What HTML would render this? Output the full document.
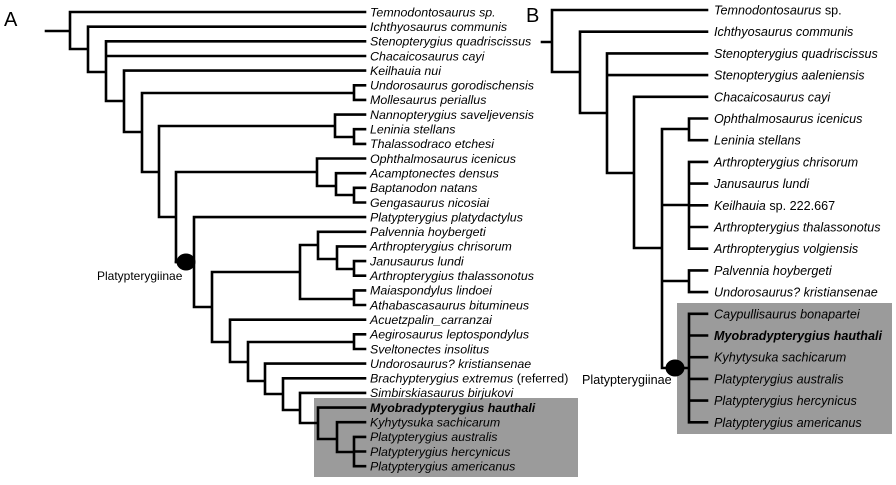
<!DOCTYPE html>
<html><head><meta charset="utf-8"><style>
html,body{margin:0;padding:0;background:#fff;}
svg{display:block;}
text{font-family:"Liberation Sans",Arial,sans-serif;fill:#000;}
.a{font-size:12.4px;font-style:italic;}
.b{font-size:12.6px;font-style:italic;}
</style></head><body>
<svg width="896" height="485" viewBox="0 0 896 485" xmlns="http://www.w3.org/2000/svg">
<rect x="314" y="398" width="264" height="79" fill="#9b9b9b"/>
<rect x="677" y="303" width="215" height="131" fill="#9b9b9b"/>
<g fill="none" stroke="#000" stroke-width="2.6" stroke-linecap="square">
<path d="M46 31H70M70 12V49M70 12H365M70 49H88M88 26.7V72M88 26.7H365M88 72H106M106 41.3V101M106 41.3H365M106 56H365M106 101H124M124 70.6V132M124 70.6H365M124 132H142M142 93V172M142 93H354M354 85.3V99.9M354 85.3H365M354 99.9H365M142 172H159M159 126V217M159 126H335M335 114.6V137M335 114.6H365M335 137H354M354 129.2V143.9M354 129.2H365M354 143.9H365M159 217H176M176 172V262M176 172H317M317 158.5V186M317 158.5H365M317 186H336M336 173.2V195M336 173.2H365M336 195H354M354 187.8V202.5M354 187.8H365M354 202.5H365"/>
<path d="M176 262H194M194 217.1V307M194 217.1H365M194 307H212M212 272V342M212 272H300M300 245V299M300 245H318M318 231.8V259M318 231.8H365M318 259H337M337 246.4V269M337 246.4H365M337 269H354M354 261.1V275.7M354 261.1H365M354 275.7H365M300 299H354M354 290.4V305M354 290.4H365M354 305H365M212 342H230M230 319.7V362M230 319.7H365M230 362H248M248 342V381M248 342H354M354 334.3V349M354 334.3H365M354 349H365M248 381H265M265 363.6V394M265 363.6H365M265 394H283M283 378.3V410M283 378.3H365M283 410H300M300 392.9V423M300 392.9H365M300 423H318M318 407.6V439M318 407.6H365M318 439H337M337 422.2V452M337 422.2H365M337 452H354M354 436.9V466.2M354 436.9H365M354 451.5H365M354 466.2H365"/>
<path d="M542 42H552M552 10V72M552 10H707M552 72H580M580 31.7V113M580 31.7H707M580 113H607M607 53.4V173M607 53.4H707M607 75.1H707M607 173H634M634 96.8V248M634 96.8H707M634 248H662M662 129V368M662 129H689M689 118.5V140.2M689 118.5H707M689 140.2H707M662 205H689M689 161.9V248.7M689 161.9H707M689 183.6H707M689 205.3H707M689 227H707M689 248.7H707M662 281H689M689 270.4V292.1M689 270.4H707M689 292.1H707M662 368H689M689 313.8V422.3M689 313.8H707M689 335.5H707M689 357.2H707M689 378.9H707M689 400.6H707M689 422.3H707"/>
</g>
<ellipse cx="186" cy="262" rx="9.5" ry="8.5" fill="#000"/>
<ellipse cx="675" cy="368" rx="9.5" ry="8.5" fill="#000"/>
<text x="4" y="26" style="font-size:20px">A</text>
<text x="526" y="22" style="font-size:20px">B</text>
<text x="97" y="280" style="font-size:12px">Platypterygiinae</text>
<text x="582" y="384" style="font-size:12.6px">Platypterygiinae</text>
<g class="a">
<text x="370" y="16.3">Temnodontosaurus sp.</text>
<text x="370" y="31">Ichthyosaurus communis</text>
<text x="370" y="45.6">Stenopterygius quadriscissus</text>
<text x="370" y="60.3">Chacaicosaurus cayi</text>
<text x="370" y="74.9">Keilhauia nui</text>
<text x="370" y="89.6">Undorosaurus gorodischensis</text>
<text x="370" y="104.2">Mollesaurus periallus</text>
<text x="370" y="118.9">Nannopterygius saveljevensis</text>
<text x="370" y="133.5">Leninia stellans</text>
<text x="370" y="148.2">Thalassodraco etchesi</text>
<text x="370" y="162.8">Ophthalmosaurus icenicus</text>
<text x="370" y="177.5">Acamptonectes densus</text>
<text x="370" y="192.1">Baptanodon natans</text>
<text x="370" y="206.8">Gengasaurus nicosiai</text>
<text x="370" y="221.4">Platypterygius platydactylus</text>
<text x="370" y="236.1">Palvennia hoybergeti</text>
<text x="370" y="250.7">Arthropterygius chrisorum</text>
<text x="370" y="265.4">Janusaurus lundi</text>
<text x="370" y="280">Arthropterygius thalassonotus</text>
<text x="370" y="294.7">Maiaspondylus lindoei</text>
<text x="370" y="309.3">Athabascasaurus bitumineus</text>
<text x="370" y="324">Acuetzpalin_carranzai</text>
<text x="370" y="338.6">Aegirosaurus leptospondylus</text>
<text x="370" y="353.3">Sveltonectes insolitus</text>
<text x="370" y="367.9">Undorosaurus? kristiansenae</text>
<text x="370" y="382.6">Brachypterygius extremus <tspan style="font-style:normal">(referred)</tspan></text>
<text x="370" y="397.2">Simbirskiasaurus birjukovi</text>
<text x="370" y="411.9" style="font-weight:bold">Myobradypterygius hauthali</text>
<text x="370" y="426.5">Kyhytysuka sachicarum</text>
<text x="370" y="441.2">Platypterygius australis</text>
<text x="370" y="455.8">Platypterygius hercynicus</text>
<text x="370" y="470.5">Platypterygius americanus</text>
</g>
<g class="b">
<text x="714" y="14.5">Temnodontosaurus <tspan style="font-style:normal">sp.</tspan></text>
<text x="714" y="36.2">Ichthyosaurus communis</text>
<text x="714" y="57.9">Stenopterygius quadriscissus</text>
<text x="714" y="79.6">Stenopterygius aaleniensis</text>
<text x="714" y="101.3">Chacaicosaurus cayi</text>
<text x="714" y="123">Ophthalmosaurus icenicus</text>
<text x="714" y="144.7">Leninia stellans</text>
<text x="714" y="166.4">Arthropterygius chrisorum</text>
<text x="714" y="188.1">Janusaurus lundi</text>
<text x="714" y="209.8">Keilhauia <tspan style="font-style:normal">sp. 222.667</tspan></text>
<text x="714" y="231.5">Arthropterygius thalassonotus</text>
<text x="714" y="253.2">Arthropterygius volgiensis</text>
<text x="714" y="274.9">Palvennia hoybergeti</text>
<text x="714" y="296.6">Undorosaurus? kristiansenae</text>
<text x="714" y="318.3">Caypullisaurus bonapartei</text>
<text x="714" y="340" style="font-weight:bold">Myobradypterygius hauthali</text>
<text x="714" y="361.7">Kyhytysuka sachicarum</text>
<text x="714" y="383.4">Platypterygius australis</text>
<text x="714" y="405.1">Platypterygius hercynicus</text>
<text x="714" y="426.8">Platypterygius americanus</text>
</g>
</svg>
</body></html>
